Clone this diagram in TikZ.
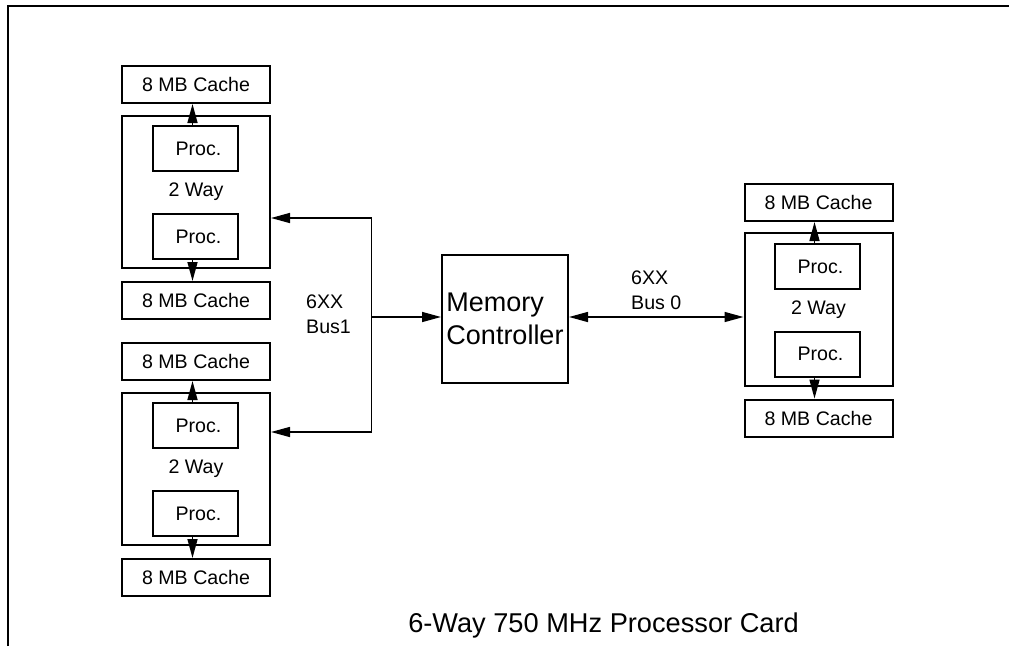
\documentclass[tikz,border=0pt]{standalone}
\usepackage{fontspec}
\setmainfont{Liberation Sans}
\usetikzlibrary{arrows.meta,calc}
\begin{document}
\begin{tikzpicture}[x=1pt,y=-1pt,
  box/.style={draw,line width=2pt,inner sep=0pt,font=\fontsize{19.6}{23}\selectfont},
  cachebox/.style={box,minimum width=148pt,minimum height=37pt},
  waybox/.style={box,minimum width=148pt,minimum height=152pt},
  procbox/.style={box,minimum width=85pt,minimum height=45pt},
  conn/.style={line width=1.5pt},
  tri/.tip={Triangle[length=19pt,width=10pt]},
  lbl/.style={font=\fontsize{19.6}{24.7}\selectfont,align=left,inner sep=0pt,anchor=west}
]
\useasboundingbox (0,0) rectangle (1009,646);
% frame
\draw[line width=2.6pt] (8,646) -- (8,6) -- (1009,6);

% group 1
\node[cachebox] (c1t) at (196,84.5) {8 MB Cache};
\node[waybox] (w1) at (196,192) {2 Way};
\node[procbox] (p1a) at (195.5,148.5) {\hspace{6pt}Proc.};
\node[procbox] (p1b) at (195.5,236.5) {\hspace{6pt}Proc.};
\node[cachebox] (c1b) at (196,300.5) {8 MB Cache};
% group 2
\node[cachebox] (c2t) at (196,361.5) {8 MB Cache};
\node[waybox] (w2) at (196,469) {2 Way};
\node[procbox] (p2a) at (195.5,425.5) {\hspace{6pt}Proc.};
\node[procbox] (p2b) at (195.5,513.5) {\hspace{6pt}Proc.};
\node[cachebox] (c2b) at (196,577.5) {8 MB Cache};
% group 3
\node[cachebox] (c3t) at (818.5,202.5) {8 MB Cache};
\node[waybox,minimum height=153pt] (w3) at (818.5,309.5) {2 Way};
\node[procbox] (p3a) at (817.5,266.5) {\hspace{6pt}Proc.};
\node[procbox] (p3b) at (817.5,354) {\hspace{6pt}Proc.};
\node[cachebox] (c3b) at (818.5,418) {8 MB Cache};
% memory controller
\node[box,minimum width=126pt,minimum height=128pt,align=left,
      font=\fontsize{27}{33}\selectfont] (mc) at (505,319) {Memory\\Controller};

% cache arrows
\foreach \p/\c in {p1a/c1t,p2a/c2t,p3a/c3t}
  \draw[conn,-tri] ([xshift=-3pt]\p.north) -- ([xshift=-3pt]\p.north |- \c.south);
\foreach \p/\c in {p1b/c1b,p2b/c2b,p3b/c3b}
  \draw[conn,-tri] ([xshift=-3pt]\p.south) -- ([xshift=-3pt]\p.south |- \c.north);

% bus 1
\coordinate (b1) at (371.5,218);
\coordinate (b2) at (371.5,432);
\coordinate (bj) at (371.5,317);
\draw[conn] (b1) -- (b2);
\draw[conn,-tri] (b1) -- (w1.east |- b1);
\draw[conn,-tri] (b2) -- (w2.east |- b2);
\draw[conn,-tri] (bj) -- (mc.west |- bj);
\node[lbl] (l1) at (306,314.5) {6XX\\Bus1};

% bus 0
\draw[conn,tri-tri] (mc.east |- bj) -- (w3.west |- bj);
\node[lbl] (l0) at (631,290.5) {6XX\\Bus 0};

% title
\node[font=\fontsize{27.2}{33}\selectfont,anchor=base,inner sep=0pt] (title) at (603.5,632.7) {6-Way 750 MHz Processor Card};
\end{tikzpicture}
\end{document}
